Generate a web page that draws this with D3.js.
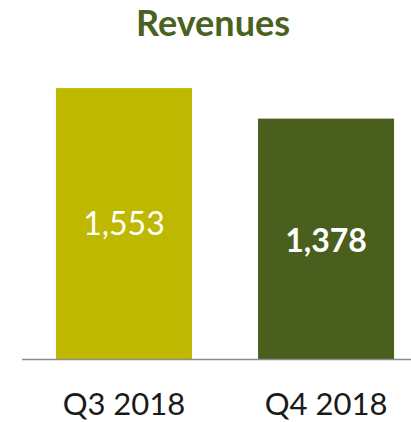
<!DOCTYPE html>
<html>
<head>
<meta charset="utf-8">
<script src="https://cdn.jsdelivr.net/npm/d3@7"></script>
<style>
  body { margin: 0; background: #fff; }
  svg { display: block; font-family: Lato, "Open Sans", sans-serif; }
</style>
</head>
<body>
<div id="chart"></div>
<script>
var quarters = ["Q3 2018", "Q4 2018"];
var revenues = [1553, 1378];
var barColors = ["#bfb800", "#4a5f1e"];
var labelWeights = ["normal", "bold"];

var width = 411, height = 422;

var svg = d3.select("#chart")
	.append("svg")
	.attr("width", width)
	.attr("height", height);

var x = d3.scaleBand()
	.domain(quarters)
	.range([22, 428])
	.paddingInner(0.327)
	.paddingOuter(0.168);

var y = d3.scaleLinear()
	.domain([0, 1800])
	.range([359, 45]);

var data = quarters.map(function (q, i) {
	return { q: q, v: revenues[i], color: barColors[i], weight: labelWeights[i] };
});

// title
svg.append("text")
	.attr("x", 213)
	.attr("y", 36)
	.attr("text-anchor", "middle")
	.attr("font-size", 36)
	.attr("font-weight", "bold")
	.attr("fill", "#4a6120")
	.text("Revenues");

svg.selectAll("rect.bar")
	.data(data)
	.enter()
	.append("rect")
	.attr("class", "bar")
	.attr("x", function (d) { return x(d.q); })
	.attr("y", function (d) { return y(d.v); })
	.attr("width", x.bandwidth())
	.attr("height", function (d) { return y(0) - y(d.v); })
	.attr("fill", function (d) { return d.color; });

// value labels
svg.selectAll("text.val")
	.data(data)
	.enter()
	.append("text")
	.attr("class", "val")
	.attr("x", function (d) { return x(d.q) + x.bandwidth() / 2; })
	.attr("y", function (d, i) { return i === 0 ? 235 : 252; })
	.attr("text-anchor", "middle")
	.attr("font-size", 32)
	.attr("font-weight", function (d) { return d.weight; })
	.attr("fill", "#ffffff")
	.text(function (d) { return d3.format(",")(d.v); });

// baseline
svg.append("line")
	.attr("x1", 22)
	.attr("x2", width)
	.attr("y1", y(0) + 0.5)
	.attr("y2", y(0) + 0.5)
	.attr("stroke", "#8c8c8c")
	.attr("stroke-width", 1.5);

var xAxis = svg.append("g")
	.attr("transform", "translate(0," + y(0) + ")")
	.call(d3.axisBottom(x).tickSize(0).tickPadding(34));

xAxis.select(".domain").remove();
xAxis.selectAll("text")
	.attr("font-size", 31)
	.attr("font-family", "Lato, 'Open Sans', sans-serif")
	.attr("fill", "#1a1a1a");
</script>
</body>
</html>
